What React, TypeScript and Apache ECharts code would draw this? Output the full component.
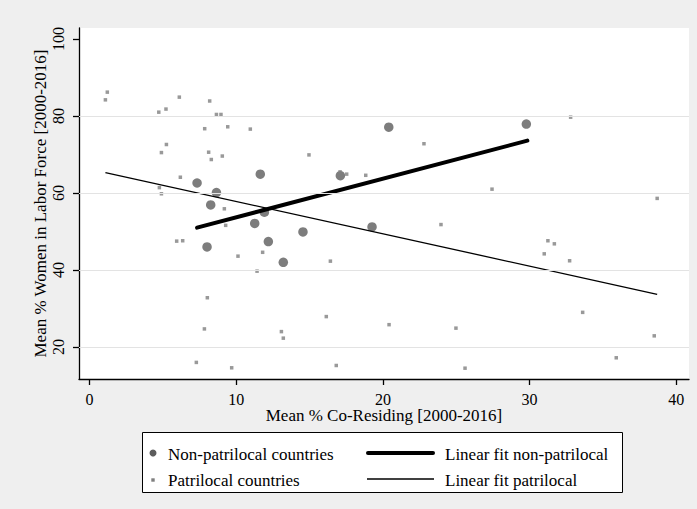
import React, { useEffect, useRef } from "react";
import * as echarts from "echarts";

// Non-patrilocal countries: [mean % co-residing, mean % women in labor force]
const nonPatrilocal: [number, number][] = [
  [7.33, 62.6], [8.65, 60.1], [11.64, 64.9], [20.4, 77.1], [17.1, 64.5],
  [29.78, 77.9], [8.26, 56.9], [11.26, 52.1], [11.92, 55.0], [12.19, 47.4],
  [13.21, 42.0], [8.01, 46.0], [14.55, 49.9], [19.26, 51.2],
];

// Patrilocal countries
const patrilocal: [number, number][] = [
  [1.21, 86.2], [1.08, 84.2], [4.72, 81.0], [5.21, 81.8], [6.12, 84.9],
  [8.19, 83.9], [8.65, 80.4], [8.96, 80.4], [7.85, 76.7], [9.42, 77.2],
  [10.96, 76.6], [5.24, 72.6], [4.9, 70.5], [8.12, 70.6], [8.3, 68.7],
  [9.05, 69.6], [6.19, 64.1], [4.76, 61.4], [4.9, 59.8], [14.96, 69.9],
  [22.8, 72.8], [17.08, 65.5], [17.53, 64.9], [18.83, 64.6], [32.8, 79.7],
  [27.44, 61.0], [38.7, 58.6], [9.19, 55.9], [9.28, 51.6], [5.94, 47.5],
  [6.35, 47.6], [10.12, 43.6], [11.8, 44.6], [11.42, 39.7], [8.03, 32.8],
  [7.83, 24.7], [13.08, 24.0], [13.21, 22.3], [7.28, 16.0], [9.69, 14.6],
  [23.96, 51.8], [16.42, 42.3], [16.14, 27.9], [20.42, 25.8], [24.98, 24.9],
  [16.82, 15.2], [25.6, 14.5], [31.25, 47.6], [31.69, 46.8], [31.0, 44.2],
  [32.73, 42.4], [33.62, 29.0], [38.5, 22.9], [35.91, 17.2],
];

// Linear fit end points
const fitNonPatrilocal: [number, number][] = [[7.33, 51.0], [29.85, 73.6]];
const fitPatrilocal: [number, number][] = [[1.08, 65.3], [38.7, 33.7]];

const xTicks = [0, 10, 20, 30, 40];
const yTicks = [20, 40, 60, 80, 100];
const yGridLines = [20, 40, 60, 80];

const seriesNames = [
  "Non-patrilocal countries",
  "Patrilocal countries",
  "Linear fit non-patrilocal",
  "Linear fit patrilocal",
];

const xTitle = "Mean % Co-Residing [2000-2016]";
const yTitle = "Mean % Women in Labor Force [2000-2016]";

const FONT = "'Liberation Serif', 'Times New Roman', serif";
const BIG = "#5c5c5c";
const SMALL = "#7f7f7f";

export default function App() {
  const ref = useRef<HTMLDivElement>(null);

  useEffect(() => {
    if (!ref.current) return;
    const chart = echarts.init(ref.current, undefined, { renderer: "svg" });
    const legendText = {
      fontFamily: FONT,
      fontSize: 17,
      fill: "#000",
      verticalAlign: "middle",
    };
    chart.setOption({
      animation: false,
      backgroundColor: "#efefef",
      grid: {
        left: 79,
        top: 28,
        right: 8,
        bottom: 130,
        show: true,
        backgroundColor: "#ffffff",
        borderWidth: 0,
      },
      xAxis: {
        type: "value",
        min: -0.72,
        max: 40.87,
        name: xTitle,
        nameLocation: "middle",
        nameGap: 28,
        nameMoveOverlap: false,
        nameTextStyle: { fontFamily: FONT, fontSize: 17, color: "#000" },
        axisLine: { show: true, onZero: false, lineStyle: { color: "#000", width: 1.3 } },
        axisTick: { show: true, length: 6, customValues: xTicks, lineStyle: { color: "#000", width: 1.3 } },
        axisLabel: {
          customValues: xTicks,
          margin: 12,
          fontFamily: FONT,
          fontSize: 16,
          color: "#000",
        },
        splitLine: { show: false },
      },
      yAxis: {
        type: "value",
        min: 11.69,
        max: 102.86,
        name: yTitle,
        nameLocation: "middle",
        nameRotate: 90,
        nameGap: 30,
        nameMoveOverlap: false,
        nameTextStyle: { fontFamily: FONT, fontSize: 17, color: "#000" },
        axisLine: { show: true, onZero: false, lineStyle: { color: "#000", width: 1.3 } },
        axisTick: { show: true, length: 6, customValues: yTicks, lineStyle: { color: "#000", width: 1.3 } },
        axisLabel: {
          customValues: yTicks,
          rotate: 90,
          margin: 13,
          fontFamily: FONT,
          fontSize: 16,
          color: "#000",
        },
        splitLine: { show: false },
      },
      series: [
        {
          type: "line",
          data: [],
          z: 1,
          silent: true,
          markLine: {
            silent: true,
            symbol: "none",
            label: { show: false },
            lineStyle: { color: "#e3e3e3", width: 1, type: "solid" },
            data: yGridLines.map((v) => ({ yAxis: v })),
          },
        },
        {
          name: seriesNames[0],
          type: "scatter",
          data: nonPatrilocal,
          symbol: "circle",
          symbolSize: 9.5,
          itemStyle: { color: BIG },
          z: 2,
        },
        {
          name: seriesNames[1],
          type: "scatter",
          data: patrilocal,
          symbol: "rect",
          symbolSize: 3.5,
          itemStyle: { color: SMALL },
          z: 2,
        },
        {
          name: seriesNames[2],
          type: "line",
          data: fitNonPatrilocal,
          showSymbol: false,
          symbol: "none",
          lineStyle: { color: "#000", width: 4, cap: "round" },
          z: 3,
        },
        {
          name: seriesNames[3],
          type: "line",
          data: fitPatrilocal,
          showSymbol: false,
          symbol: "none",
          lineStyle: { color: "#000", width: 1.3 },
          z: 3,
        },
      ],
      graphic: [
        {
          type: "rect",
          shape: { x: 142.5, y: 432.5, width: 480, height: 60 },
          style: { fill: "#fff", stroke: "#000", lineWidth: 1 },
        },
        { type: "circle", shape: { cx: 153, cy: 453, r: 3.5 }, style: { fill: BIG } },
        { type: "rect", shape: { x: 151.3, y: 478.3, width: 3.4, height: 3.4 }, style: { fill: SMALL } },
        { type: "text", x: 168, y: 454, style: { ...legendText, text: seriesNames[0] } },
        { type: "text", x: 168, y: 480, style: { ...legendText, text: seriesNames[1] } },
        {
          type: "line",
          shape: { x1: 368, y1: 453, x2: 433, y2: 453 },
          style: { stroke: "#000", lineWidth: 4, lineCap: "round" },
        },
        {
          type: "line",
          shape: { x1: 367, y1: 479, x2: 434, y2: 479 },
          style: { stroke: "#000", lineWidth: 1.3 },
        },
        { type: "text", x: 445, y: 454, style: { ...legendText, text: seriesNames[2] } },
        { type: "text", x: 445, y: 480, style: { ...legendText, text: seriesNames[3] } },
      ],
    });
    return () => chart.dispose();
  }, []);

  return (
    <div
      ref={ref}
      style={{ position: "fixed", left: 0, top: 0, width: 697, height: 509 }}
    />
  );
}
